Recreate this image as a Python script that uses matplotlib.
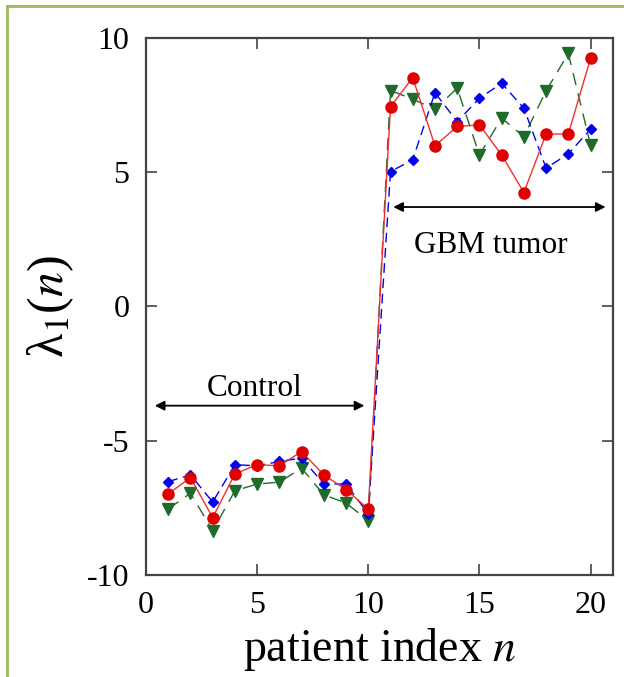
import numpy as np
import matplotlib
matplotlib.use("Agg")
import matplotlib.pyplot as plt
from matplotlib.lines import Line2D

plt.rcParams['font.family'] = ['Liberation Serif', 'DejaVu Serif']
plt.rcParams['mathtext.fontset'] = 'stix'

# patient index
n = np.arange(1, 21)

# lambda_1(n) for three runs
red_vals = [-6.99, -6.38, -7.87, -6.24, -5.90, -5.94, -5.41, -6.28, -6.83, -7.55,
            7.44, 8.52, 5.98, 6.70, 6.76, 5.64, 4.24, 6.42, 6.42, 9.24]
blue_vals = [-6.53, -6.28, -7.29, -5.90, -5.94, -5.78, -5.65, -6.62, -6.62, -7.73,
             5.02, 5.46, 7.96, 6.88, 7.75, 8.31, 7.38, 5.15, 5.68, 6.60]
green_vals = [-7.55, -6.96, -8.36, -6.87, -6.62, -6.55, -6.03, -7.02, -7.33, -7.98,
              8.04, 7.72, 7.34, 8.13, 5.64, 7.01, 6.32, 8.03, 9.42, 6.01]

xticks = [0, 5, 10, 15, 20]
yticks = [-10, -5, 0, 5, 10]

fig = plt.figure(figsize=(6.24, 6.77), dpi=100)
ax = fig.add_axes([0.234, 0.151, 0.748, 0.793])

# green dashed, triangles
ax.plot(n, green_vals, color='#1e6b2a', lw=1.0, dashes=(9, 6),
        marker='v', ms=8, mec='#1e6b2a', mfc='#1e6b2a')
# blue dashed, diamonds
ax.plot(n, blue_vals, color='#0000ee', lw=1.0, dashes=(7, 4),
        marker='D', ms=5.5, mec='#0000ee', mfc='#0000ee')
# red solid, circles
ax.plot(n, red_vals, color='#f03030', lw=1.0,
        marker='o', ms=8, mec='#e00000', mfc='#e00000')

ax.set_xlim(0, 21)
ax.set_ylim(-10, 10)
ax.set_xticks(xticks)
ax.set_yticks(yticks)
ax.set_xticklabels([str(t) for t in xticks])
ax.set_yticklabels([str(t) for t in yticks])
ax.tick_params(direction='in', length=8, width=1.2, color='#444444',
               labelsize=23, top=True, right=True)
ax.tick_params(axis='x', pad=12)
ax.tick_params(axis='y', pad=12)
for s in ax.spines.values():
    s.set_color('#444444')
    s.set_linewidth(1.6)

# arrows and group labels
arrow = dict(arrowstyle='<|-|>', color='black', lw=1.3, mutation_scale=14)
ax.annotate('', xy=(0.27, -3.7), xytext=(9.95, -3.7), arrowprops=arrow)
ax.text(4.9, -3.05, 'Control', fontsize=22.5, ha='center', va='center')
ax.annotate('', xy=(11.0, 3.7), xytext=(20.8, 3.7), arrowprops=arrow)
ax.text(15.5, 2.25, 'GBM tumor', fontsize=22.5, ha='center', va='center')

ax.set_xlabel(r'patient index $\mathit{n}$', fontsize=33, labelpad=4)
ax.set_ylabel('λ$_1$($\\mathit{n}$)', fontsize=36, labelpad=8)

# olive frame lines on top and left
fig.add_artist(Line2D([0.011, 0.011], [0, 0.991], transform=fig.transFigure,
                      color='#9bbb59', lw=2))
fig.add_artist(Line2D([0.011, 1], [0.991, 0.991], transform=fig.transFigure,
                      color='#9bbb59', lw=2))

fig.savefig('out.png', dpi=100)
